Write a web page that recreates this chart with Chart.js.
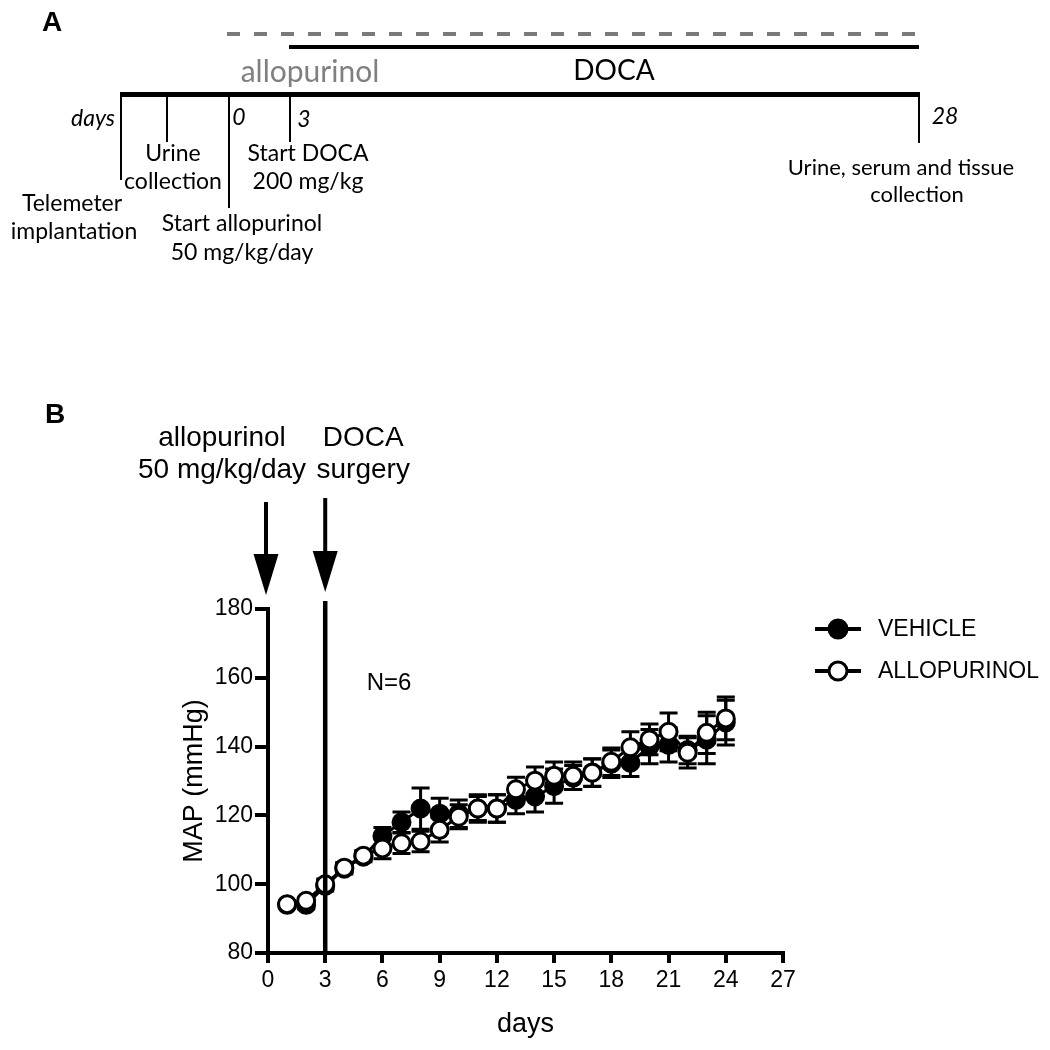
<!DOCTYPE html>
<html>
<head>
<meta charset="utf-8">
<script src="https://cdn.jsdelivr.net/npm/chart.js@4.4.0/dist/chart.umd.min.js"></script>
<style>
  html, body { margin: 0; padding: 0; background: #fff; }
  #wrap { position: relative; width: 1050px; height: 1050px; overflow: hidden; background: #fff; }
  #mapChart { position: absolute; left: 0; top: 0; }
  .t { position: absolute; font-family: Lato, "Open Sans", sans-serif; font-size: 23px; color: #000;
       white-space: nowrap; line-height: 1; transform: translate(-50%, -50%); }
  .i { font-style: italic; }
  .bar { position: absolute; background: #000; }
  .tick { position: absolute; background: #000; width: 1.5px; }
</style>
</head>
<body>
<div id="wrap">
  <canvas id="mapChart" width="1050" height="1050"></canvas>

  <!-- panel A: protocol timeline -->
  <div class="t" style="left:52px;top:22px;font-family:'Liberation Sans',Arial,sans-serif;font-weight:bold;font-size:28px;">A</div>
  <div style="position:absolute;left:227px;top:32px;width:692px;height:4px;
       background:repeating-linear-gradient(to right,#7a7a7a 0 13px,transparent 13px 27px);"></div>
  <div class="bar" style="left:289px;top:45px;width:630px;height:4px;"></div>
  <div class="t" style="left:310px;top:70px;font-size:30px;color:#808080;">allopurinol</div>
  <div class="t" style="left:614px;top:69px;font-size:28px;">DOCA</div>
  <div class="bar" style="left:120px;top:92px;width:800px;height:5px;"></div>

  <div class="tick" style="left:120px;top:94px;height:86px;"></div>
  <div class="tick" style="left:166px;top:94px;height:48px;"></div>
  <div class="tick" style="left:228px;top:94px;height:114px;"></div>
  <div class="tick" style="left:289px;top:94px;height:48px;"></div>
  <div class="tick" style="left:918px;top:94px;height:49px;"></div>

  <div class="t i" style="left:115px;top:117px;transform:translate(-100%,-50%);">days</div>
  <div class="t i" style="left:239px;top:116px;">0</div>
  <div class="t i" style="left:304px;top:118px;">3</div>
  <div class="t i" style="left:945px;top:115px;">28</div>

  <div class="t" style="left:173px;top:152px;">Urine</div>
  <div class="t" style="left:173px;top:180px;">collection</div>
  <div class="t" style="left:72px;top:202px;">Telemeter</div>
  <div class="t" style="left:74px;top:230px;">implantation</div>
  <div class="t" style="left:242px;top:222px;">Start allopurinol</div>
  <div class="t" style="left:242px;top:251px;">50 mg/kg/day</div>
  <div class="t" style="left:308px;top:152px;">Start DOCA</div>
  <div class="t" style="left:308px;top:180px;">200 mg/kg</div>
  <div class="t" style="left:901px;top:167px;font-size:22px;">Urine, serum and tissue</div>
  <div class="t" style="left:917px;top:194px;font-size:22px;">collection</div>
</div>

<script>
// panel B data (mean +/- SEM, mmHg)
const days = [1, 2, 3, 4, 5, 6, 7, 8, 9, 10, 11, 12, 13, 14, 15, 16, 17, 18, 19, 20, 21, 22, 23, 24];

const vehicleMap = [94.0, 94.0, 99.5, 104.5, 108.0, 114.0, 118.0, 122.0, 120.5, 120.5, 122.0, 122.0,
                    124.5, 125.5, 128.5, 131.0, 132.5, 135.0, 135.3, 140.0, 140.5, 139.0, 142.0, 147.0];
const vehicleSem = [1.0, 1.2, 1.5, 1.5, 1.5, 2.5, 3.0, 6.0, 4.5, 4.0, 4.0, 4.0,
                    4.0, 4.5, 5.0, 3.5, 4.0, 4.0, 4.0, 5.0, 5.0, 4.0, 7.0, 6.5];

const alloMap = [94.2, 95.2, 100.0, 104.8, 108.3, 110.4, 111.9, 112.4, 115.8, 119.6, 122.0, 122.0,
                 127.6, 130.1, 131.5, 131.5, 132.4, 135.6, 139.8, 142.1, 144.3, 138.2, 144.0, 148.2];
const alloSem = [1.0, 1.0, 1.5, 1.5, 1.5, 3.0, 3.0, 3.0, 3.5, 3.5, 3.5, 4.0,
                 3.5, 4.0, 4.0, 4.0, 4.0, 4.0, 4.5, 4.5, 5.5, 4.4, 6.0, 6.2];

const xTicks = [0, 3, 6, 9, 12, 15, 18, 21, 24, 27];
const yTicks = [80, 100, 120, 140, 160, 180];

const seriesNames = ['VEHICLE', 'ALLOPURINOL'];

const ARIAL = "'Liberation Sans', Arial, sans-serif";

// error bars, drawn under the markers
const errorBars = {
  id: 'errorBars',
  beforeDatasetsDraw(chart) {
    const { ctx, scales: { x, y } } = chart;
    ctx.save();
    ctx.strokeStyle = '#000';
    ctx.lineWidth = 3;
    [[vehicleMap, vehicleSem], [alloMap, alloSem]].forEach(([m, s]) => {
      days.forEach((d, i) => {
        const px = x.getPixelForValue(d);
        const top = y.getPixelForValue(m[i] + s[i]);
        const bot = y.getPixelForValue(m[i] - s[i]);
        ctx.beginPath();
        ctx.moveTo(px, top); ctx.lineTo(px, bot);
        ctx.moveTo(px - 9, top); ctx.lineTo(px + 9, top);
        ctx.moveTo(px - 9, bot); ctx.lineTo(px + 9, bot);
        ctx.stroke();
      });
    });
    ctx.restore();
  }
};

function arrow(ctx, px, yTop, yTip) {
  ctx.beginPath();
  ctx.lineWidth = 4;
  ctx.moveTo(px, yTop);
  ctx.lineTo(px, yTip - 30);
  ctx.stroke();
  ctx.beginPath();
  ctx.moveTo(px, yTip);
  ctx.lineTo(px - 12.5, yTip - 41);
  ctx.lineTo(px + 12.5, yTip - 41);
  ctx.closePath();
  ctx.fill();
}

// day-3 line, arrows, labels and the line+marker legend
const annotations = {
  id: 'annotations',
  afterDraw(chart) {
    const { ctx, chartArea, scales: { x, y } } = chart;
    const x0 = x.getPixelForValue(0);
    const x3 = x.getPixelForValue(3);
    ctx.save();
    ctx.fillStyle = '#000';
    ctx.strokeStyle = '#000';

    // DOCA surgery line
    ctx.lineWidth = 4.5;
    ctx.beginPath();
    ctx.moveTo(x3, chartArea.top - 8);
    ctx.lineTo(x3, chartArea.bottom);
    ctx.stroke();

    arrow(ctx, x0 - 2, chartArea.top - 107, chartArea.top - 14);
    arrow(ctx, x3, chartArea.top - 111, chartArea.top - 17);

    ctx.textAlign = 'center';
    ctx.textBaseline = 'middle';
    ctx.font = '28px ' + ARIAL;
    ctx.fillText('allopurinol', x0 - 46, 438);
    ctx.fillText('50 mg/kg/day', x0 - 46, 470);
    ctx.fillText('DOCA', x3 + 38, 438);
    ctx.fillText('surgery', x3 + 38, 470);

    ctx.font = 'bold 28px ' + ARIAL;
    ctx.fillText('B', 55, 415);

    ctx.font = '24px ' + ARIAL;
    ctx.fillText('N=6', 389, 683);

    // legend
    const rows = [[629, '#000'], [671, '#fff']];
    rows.forEach(([ly, fill], i) => {
      ctx.lineWidth = 4;
      ctx.beginPath();
      ctx.moveTo(815, ly);
      ctx.lineTo(861, ly);
      ctx.stroke();
      ctx.beginPath();
      ctx.arc(838, ly, 9, 0, Math.PI * 2);
      ctx.fillStyle = fill;
      ctx.fill();
      ctx.lineWidth = 3;
      ctx.stroke();
      ctx.fillStyle = '#000';
      ctx.textAlign = 'left';
      ctx.font = '23px ' + ARIAL;
      ctx.fillText(seriesNames[i], 878, ly + 1);
    });
    ctx.restore();
  }
};

const mapChart = new Chart(document.getElementById('mapChart'), {
  type: 'line',
  data: {
    datasets: [
      {
        label: seriesNames[0],
        data: days.map((d, i) => ({ x: d, y: vehicleMap[i] })),
        borderColor: '#000',
        borderWidth: 3,
        pointRadius: 8.5,
        pointBorderWidth: 3,
        pointBackgroundColor: '#000',
        pointBorderColor: '#000',
        tension: 0,
        clip: false,
        order: 1
      },
      {
        label: seriesNames[1],
        data: days.map((d, i) => ({ x: d, y: alloMap[i] })),
        borderColor: '#000',
        borderWidth: 3,
        pointRadius: 8.5,
        pointBorderWidth: 3,
        pointBackgroundColor: '#fff',
        pointBorderColor: '#000',
        tension: 0,
        clip: false,
        order: 0
      }
    ]
  },
  options: {
    responsive: false,
    animation: false,
    devicePixelRatio: 1,
    layout: { padding: { left: 174, top: 609, right: 267, bottom: 5 } },
    plugins: {
      legend: { display: false },
      tooltip: { enabled: false }
    },
    scales: {
      x: {
        type: 'linear',
        min: 0,
        max: 27,
        afterFit: (s) => { s.height = 92; },
        afterBuildTicks: (s) => { s.ticks = xTicks.map(v => ({ value: v })); },
        border: { display: true, color: '#000', width: 4 },
        grid: { display: true, drawOnChartArea: false, drawTicks: true, tickLength: 10, color: '#000', lineWidth: 4 },
        ticks: { color: '#000', padding: 4, font: { family: ARIAL, size: 23 } },
        title: { display: true, text: 'days', color: '#000', font: { family: ARIAL, size: 27 }, padding: 4 }
      },
      y: {
        type: 'linear',
        min: 80,
        max: 180,
        afterFit: (s) => { s.width = 94; },
        afterBuildTicks: (s) => { s.ticks = yTicks.map(v => ({ value: v })); },
        border: { display: true, color: '#000', width: 4 },
        grid: { display: true, drawOnChartArea: false, drawTicks: true, tickLength: 13, color: '#000', lineWidth: 4 },
        ticks: { color: '#000', padding: 2, font: { family: ARIAL, size: 23 } },
        title: { display: true, text: 'MAP (mmHg)', color: '#000', font: { family: ARIAL, size: 27 }, padding: 4 }
      }
    }
  },
  plugins: [errorBars, annotations]
});
</script>
</body>
</html>
